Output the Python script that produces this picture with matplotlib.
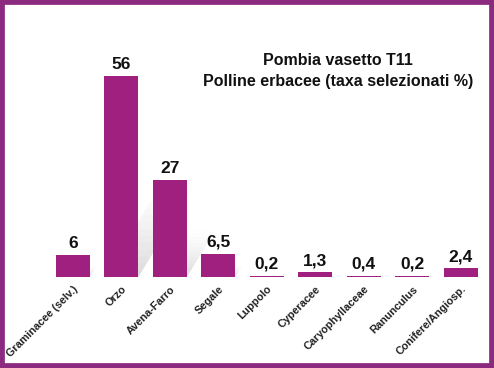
import matplotlib.pyplot as plt
from matplotlib.patches import Rectangle, Polygon

categories = ['Graminacee (selv.)', 'Orzo', 'Avena-Farro', 'Segale', 'Luppolo',
              'Cyperacee', 'Caryophyllaceae', 'Ranunculus', 'Conifere/Angiosp.']
values = [6, 56, 27, 6.5, 0.2, 1.3, 0.4, 0.2, 2.4]
labels = ['6', '56', '27', '6,5', '0,2', '1,3', '0,4', '0,2', '2,4']
title = 'Pombia vasetto T11\nPolline erbacee (taxa selezionati %)'

bar_color = '#a0207f'
frame_color = '#8c2a7f'
width = 0.7

fig = plt.figure(figsize=(4.94, 3.68), dpi=100)
ax = fig.add_axes([40 / 494, 91 / 368, 449 / 494, 247 / 368])

x = list(range(len(values)))
ax.bar(x, values, width=width, color=bar_color, zorder=3)

# ombre diagonali dietro le barre (sfumate verso l'alto)
nband = 14
for xi, v in zip(x, values):
    hs = 0.48 * v
    dx = 0.045 * hs
    for b in range(nband):
        y0, y1 = hs * b / nband, hs * (b + 1) / nband
        s0, s1 = dx * b / nband, dx * (b + 1) / nband
        poly = Polygon([(xi - width / 2 + s0, y0), (xi + width / 2 + s0, y0),
                        (xi + width / 2 + s1, y1), (xi - width / 2 + s1, y1)],
                       closed=True, facecolor='#b8b8b8', edgecolor='none',
                       alpha=0.5 * (1 - b / nband) ** 1.5, zorder=2)
        ax.add_patch(poly)

for xi, v, s in zip(x, values, labels):
    ax.text(xi, v + 1.2, s, ha='center', va='bottom', fontsize=12.5,
            fontweight='bold', family='Liberation Sans', color='#111111')

ax.set_xlim(-0.68, 8.58)
ax.set_ylim(0, 68.8)
ax.set_xticks(x)
ax.set_xticklabels(categories, rotation=45, ha='right', va='top',
                   rotation_mode='anchor', fontsize=7.8, fontweight='bold',
                   family='Liberation Sans', color='#222222')
ax.tick_params(axis='x', length=0, pad=5)
ax.set_yticks([])
for sp in ax.spines.values():
    sp.set_visible(False)

fig.text(338 / 494, 1 - 71 / 368, title, ha='center', va='center',
         fontsize=11.5, fontweight='bold', family='Liberation Sans',
         color='#111111', linespacing=1.45)

# cornice viola
fig.patches.append(Rectangle((0, 0), 1, 1, transform=fig.transFigure,
                             fill=False, edgecolor=frame_color, linewidth=7))

fig.savefig('out.png', dpi=100)
